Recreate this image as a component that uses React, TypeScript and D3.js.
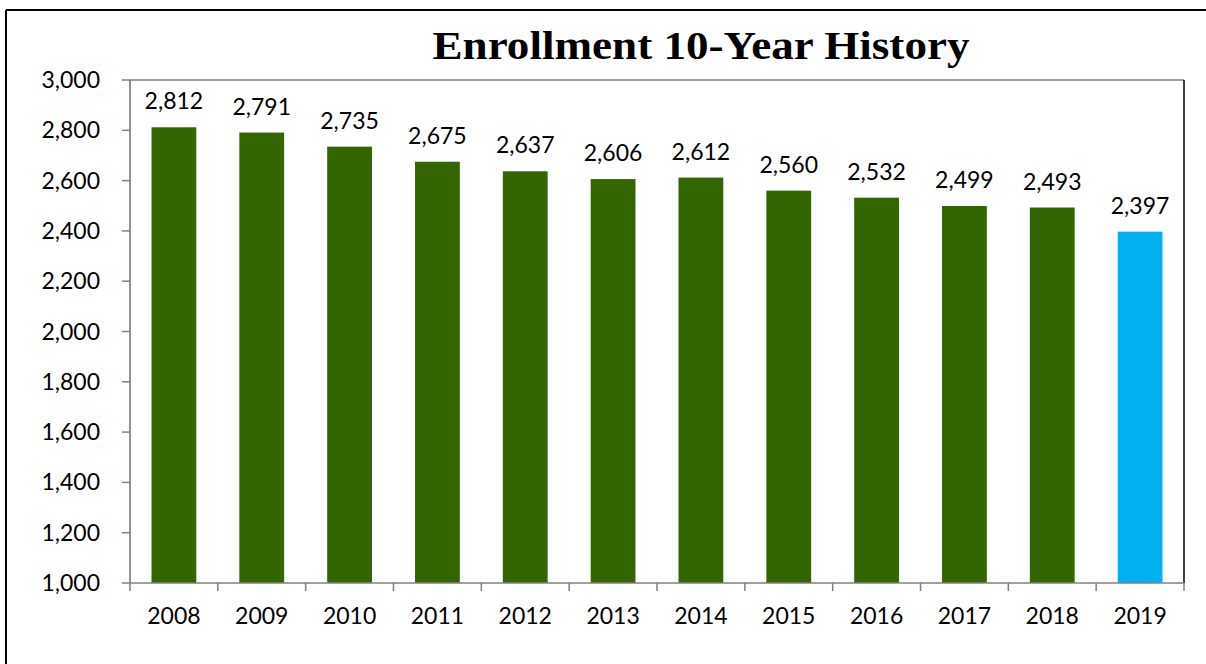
import React from "react";
import * as d3 from "d3";

const years = ["2008","2009","2010","2011","2012","2013","2014","2015","2016","2017","2018","2019"];
const enrollment = [2812,2791,2735,2675,2637,2606,2612,2560,2532,2499,2493,2397];
const yTicks = [1000,1200,1400,1600,1800,2000,2200,2400,2600,2800,3000];
const title = "Enrollment 10-Year History";
const green = "#336600";
const blue = "#00B0F0";

export default function App() {
  const W = 1206, H = 664;
  const left = 130, right = 1184, top = 80, bottom = 583;
  const x = d3.scaleBand<string>().domain(years).range([left, right]).paddingInner(0.49).paddingOuter(0.245);
  const xb = d3.scaleBand<string>().domain(years).range([left, right]);
  const y = d3.scaleLinear().domain([1000, 3000]).range([bottom, top]);
  const fmt = d3.format(",");
  const font = "Lato, 'Open Sans', sans-serif";
  const fs = 23;
  return (
    <svg width={W} height={H} style={{ position: "absolute", left: 0, top: 0, background: "#fff" }}>
      <rect x={0} y={0} width={W} height={H} fill="#fff" />
      <line x1={6} y1={10} x2={W} y2={10} stroke="#000" strokeWidth={2} />
      <line x1={6} y1={10} x2={6} y2={H} stroke="#000" strokeWidth={2} />
      <text x={701} y={59} textAnchor="middle" fontFamily="'Liberation Serif', serif" fontWeight="bold" fontSize={39} textLength={537} lengthAdjust="spacingAndGlyphs">{title}</text>
      <line x1={left} y1={top} x2={right} y2={top} stroke="#808080" strokeWidth={1.5} />
      <line x1={right} y1={top} x2={right} y2={bottom} stroke="#000" strokeWidth={1.5} />
      {enrollment.map((v, i) => (
        <rect key={years[i]} x={x(years[i])} y={y(v)} width={x.bandwidth()} height={bottom - y(v)} fill={i === years.length - 1 ? blue : green} />
      ))}
      <line x1={left} y1={top} x2={left} y2={bottom} stroke="#6e6e6e" strokeWidth={1.5} />
      <line x1={left} y1={bottom} x2={right} y2={bottom} stroke="#808080" strokeWidth={1.5} />
      {yTicks.map(t => (
        <g key={t}>
          <line x1={122} x2={left} y1={y(t)} y2={y(t)} stroke="#808080" strokeWidth={1.5} />
          <text x={100} y={y(t) + 8} textAnchor="end" fontFamily={font} fontSize={fs} fill="#000">{fmt(t)}</text>
        </g>
      ))}
      {years.map(yr => (
        <line key={"t" + yr} x1={xb(yr)!} x2={xb(yr)!} y1={bottom} y2={591} stroke="#808080" strokeWidth={1.5} />
      ))}
      <line x1={right} x2={right} y1={bottom} y2={591} stroke="#808080" strokeWidth={1.5} />
      {years.map(yr => (
        <text key={"l" + yr} x={xb(yr)! + xb.bandwidth() / 2} y={624} textAnchor="middle" fontFamily={font} fontSize={fs} fill="#000">{yr}</text>
      ))}
      {enrollment.map((v, i) => (
        <text key={"v" + i} x={xb(years[i])! + xb.bandwidth() / 2} y={y(v) - 18} textAnchor="middle" fontFamily={font} fontSize={fs} fill="#000">{fmt(v)}</text>
      ))}
    </svg>
  );
}
